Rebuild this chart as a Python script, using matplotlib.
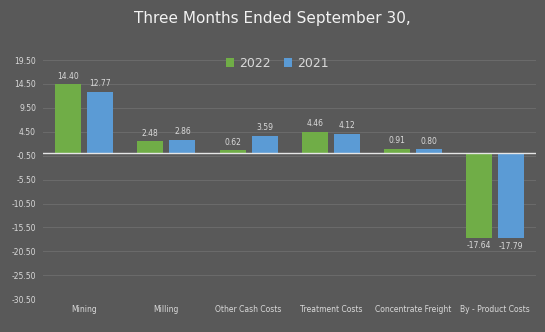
import numpy as np
import matplotlib.pyplot as plt

categories = ["Mining", "Milling", "Other Cash Costs", "Treatment Costs",
              "Concentrate Freight", "By - Product Costs"]
costs_2022 = [14.40, 2.48, 0.62, 4.46, 0.91, -17.64]
costs_2021 = [12.77, 2.86, 3.59, 4.12, 0.80, -17.79]
yticks = [19.5, 14.5, 9.5, 4.5, -0.5, -5.5, -10.5, -15.5, -20.5, -25.5, -30.5]

bg = "#595959"
txt = "#d9d9d9"
green = "#70ad47"
blue = "#5b9bd5"

fig = plt.figure(figsize=(5.45, 3.32), dpi=100, facecolor=bg)
ax = fig.add_axes([0.079, 0.099, 0.905, 0.72], facecolor=bg)

x = np.arange(len(categories))
w = 0.317
off = 0.195
b1 = ax.bar(x - off, costs_2022, w, color=green, label="2022", zorder=3)
b2 = ax.bar(x + off, costs_2021, w, color=blue, label="2021", zorder=3)

for bars, vals in ((b1, costs_2022), (b2, costs_2021)):
    for b, v in zip(bars, vals):
        cx = b.get_x() + b.get_width() / 2
        if v >= 0:
            ax.text(cx, v + 0.8, f"{v:.2f}", ha="center", va="bottom",
                    fontsize=5.5, color=txt)
        else:
            ax.text(cx, v - 0.8, f"{v:.2f}", ha="center", va="top",
                    fontsize=5.5, color=txt)

ax.axhline(0, color="#e6e6e6", lw=1.0, zorder=4)
ax.set_ylim(-30.5, 19.5)
ax.set_xlim(-0.5, len(categories) - 0.5)
ax.set_yticks(yticks)
ax.set_yticklabels([f"{t:.2f}" for t in yticks])
ax.grid(axis="y", color="#6a6a6a", lw=0.8, zorder=0)
ax.set_xticks(x)
ax.set_xticklabels(categories)
ax.tick_params(axis="both", length=0, colors=txt, labelsize=5.5)
ax.tick_params(axis="x", pad=4)
ax.tick_params(axis="y", pad=5)
for s in ax.spines.values():
    s.set_visible(False)

leg = ax.legend(loc="upper center", bbox_to_anchor=(0.475, 1.06), ncol=2,
                frameon=False, fontsize=9, handlelength=0.7, handleheight=0.7,
                handletextpad=0.4, columnspacing=1.0)
for t in leg.get_texts():
    t.set_color(txt)

fig.text(0.5, 0.945, "Three Months Ended September 30,", ha="center",
         va="center", fontsize=11, color="#f2f2f2")

fig.savefig("out.png", dpi=100, facecolor=bg)
